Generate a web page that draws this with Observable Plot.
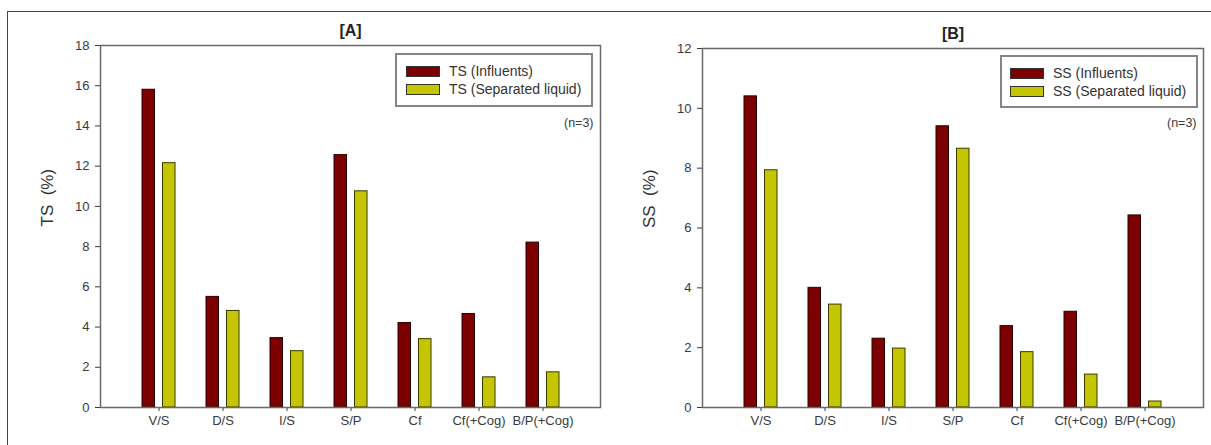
<!DOCTYPE html>
<html>
<head>
<meta charset="utf-8">
<script src="https://cdn.jsdelivr.net/npm/d3@7"></script>
<script src="https://cdn.jsdelivr.net/npm/@observablehq/plot@0.6"></script>
<style>
  html, body { margin: 0; padding: 0; background: #fff; }
  #root { position: relative; width: 1211px; height: 445px; overflow: hidden; font-family: "Liberation Sans", Arial, sans-serif; }
  #outer { position: absolute; left: 7px; top: 11px; width: 1210px; height: 440px; border-top: 1.5px solid #444; border-left: 1.5px solid #444; }
  .panel { position: absolute; top: 0; }
  .legend { position: absolute; border: 2px solid #858585; background: #fff; box-sizing: border-box; }
  .legend .row { position: absolute; left: 0; display: flex; align-items: center; font-size: 14px; color: #333; }
  .legend .sw { width: 32px; height: 9px; border: 1px solid #333; margin-right: 9px; }
</style>
</head>
<body>
<div id="root"><div id="outer"></div></div>
<script>
const categories = ["V/S", "D/S", "I/S", "S/P", "Cf", "Cf(+Cog)", "B/P(+Cog)"];
const tsInfluents = [15.8, 5.5, 3.45, 12.55, 4.2, 4.65, 8.2];
const tsSeparated = [12.15, 4.8, 2.8, 10.75, 3.4, 1.5, 1.75];
const ssInfluents = [10.4, 4.0, 2.3, 9.4, 2.72, 3.2, 6.42];
const ssSeparated = [7.93, 3.44, 1.97, 8.65, 1.85, 1.1, 0.2];
const yTicksA = [0, 2, 4, 6, 8, 10, 12, 14, 16, 18];
const yTicksB = [0, 2, 4, 6, 8, 10, 12];
const legendA = ["TS (Influents)", "TS (Separated liquid)"];
const legendB = ["SS (Influents)", "SS (Separated liquid)"];
const titles = ["[A]", "[B]"];
const yLabels = ["TS\u00a0\u00a0(%)", "SS\u00a0\u00a0(%)"];
const note = "(n=3)";

const RED = "#7c0000";
const YEL = "#c3c600";

function panel(opts) {
  const rows = categories.map((c, i) => ({cat: c, infl: opts.infl[i], sep: opts.sep[i]}));
  return Plot.plot({
    width: 606, height: 445,
    marginLeft: 100, marginRight: opts.marginRight, marginTop: opts.marginTop, marginBottom: 38,
    style: {fontFamily: "'Liberation Sans', Arial, sans-serif", fontSize: "13px", color: "#3a3a3a", background: "transparent", overflow: "visible"},
    x: {domain: categories, paddingInner: 0.49, paddingOuter: 0.6, label: null},
    y: {domain: [0, opts.yTicks[opts.yTicks.length - 1]], label: null},
    marks: [
      Plot.barY(rows, {x: "cat", y: "infl", fill: RED, stroke: "#2a0000", strokeWidth: 1, insetRight: 20.5}),
      Plot.barY(rows, {x: "cat", y: "sep", fill: YEL, stroke: "#3b3b00", strokeWidth: 1, insetLeft: 20.5}),
      Plot.axisX({tickSize: 4, tickPadding: 4, fontSize: 13}),
      Plot.axisY({ticks: opts.yTicks, tickSize: 5, tickPadding: 6, fontSize: 13, label: null}),
      Plot.frame({stroke: "#6a6a6a", strokeWidth: 1.5}),
      Plot.text([opts.title], {text: d => d, frameAnchor: "top", dy: -15, lineAnchor: "middle", fontWeight: "bold", fontSize: 16, fill: "#222"}),
      Plot.text([opts.yLabel], {text: d => d, frameAnchor: "left", rotate: -90, dx: -53, lineAnchor: "middle", fontSize: 17, fill: "#333"}),
      Plot.text([note], {text: d => d, frameAnchor: "top-right", dx: -7, dy: opts.noteDy, textAnchor: "end", lineAnchor: "middle", fontSize: 12.5})
    ]
  });
}

function legend(labels, left, top, width, height, swLeft, rowTops) {
  const div = document.createElement("div");
  div.className = "legend";
  Object.assign(div.style, {left: left + "px", top: top + "px", width: width + "px", height: height + "px"});
  [RED, YEL].forEach((col, i) => {
    const r = document.createElement("div");
    r.className = "row";
    r.style.left = swLeft + "px";
    r.style.top = rowTops[i] + "px";
    const sw = document.createElement("div");
    sw.className = "sw";
    sw.style.background = col;
    const t = document.createElement("span");
    t.textContent = labels[i];
    r.appendChild(sw); r.appendChild(t);
    div.appendChild(r);
  });
  return div;
}

const root = document.getElementById("root");
const pa = panel({infl: tsInfluents, sep: tsSeparated, yTicks: yTicksA, title: titles[0], yLabel: yLabels[0], marginTop: 45, marginRight: 6, noteDy: 77});
pa.classList.add("panel"); pa.style.left = "0px";
const pb = panel({infl: ssInfluents, sep: ssSeparated, yTicks: yTicksB, title: titles[1], yLabel: yLabels[1], marginTop: 48, marginRight: 5, noteDy: 74});
pb.classList.add("panel"); pb.style.left = "602px";
root.appendChild(pa);
root.appendChild(pb);
root.appendChild(legend(legendA, 395, 53, 198, 54, 9, [8, 26]));
root.appendChild(legend(legendB, 1000, 55, 198, 53, 8, [8, 26]));
</script>
</body>
</html>
